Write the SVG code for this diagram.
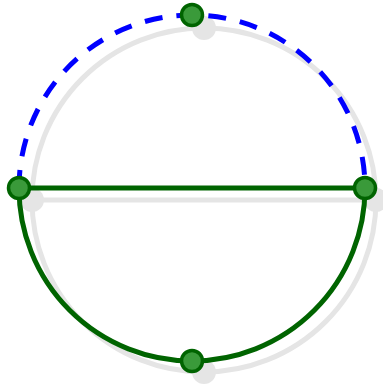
<svg xmlns="http://www.w3.org/2000/svg" width="383" height="387" viewBox="0 0 383 387">
<style>
.shadow{fill:none;stroke:#e5e5e5;stroke-width:5}
.sdot{fill:#e5e5e5}
.green{fill:none;stroke:#006400;stroke-width:5}
.blue{fill:none;stroke:#0000ff;stroke-width:5;stroke-dasharray:18 14}
.pt{fill:#3a9a3a;stroke:#006400;stroke-width:3.5}
</style>
<rect width="383" height="387" fill="#ffffff"/>
<g id="shadow">
<circle class="shadow" cx="204" cy="200" r="172"/>
<line class="shadow" x1="32" y1="200" x2="376" y2="200"/>
<circle class="sdot" cx="204" cy="28" r="12"/>
<circle class="sdot" cx="32" cy="200" r="12"/>
<circle class="sdot" cx="376" cy="200" r="12"/>
<circle class="sdot" cx="204" cy="372" r="12"/>
</g>
<g id="connectors">
<path class="blue" d="M19 188 A173 173 0 0 1 365 188"/>
<path class="green" d="M19 188 A173 173 0 0 0 365 188"/>
<line class="green" x1="19" y1="188" x2="365" y2="188"/>
</g>
<g id="top"><circle class="pt" cx="192" cy="15" r="10.5"/></g>
<g id="left"><circle class="pt" cx="19" cy="188" r="10.5"/></g>
<g id="right"><circle class="pt" cx="365" cy="188" r="10.5"/></g>
<g id="bottom"><circle class="pt" cx="192" cy="361" r="10.5"/></g>
</svg>
